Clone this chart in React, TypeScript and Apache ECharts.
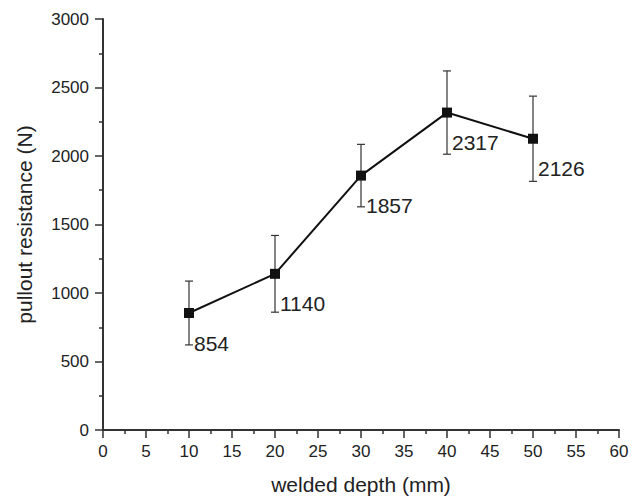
import React, { useEffect, useRef } from "react";
import * as echarts from "echarts";

const depths = [10, 20, 30, 40, 50];
const resistance = [854, 1140, 1857, 2317, 2126];
const errors = [233, 280, 228, 304, 311];
const xTicks = { min: 0, max: 60, interval: 5 };
const yTicks = { min: 0, max: 3000, interval: 500 };
const xName = "welded depth (mm)";
const yName = "pullout resistance (N)";

const FONT = "'Liberation Sans', Arial, sans-serif";

export default function App() {
  const ref = useRef<HTMLDivElement>(null);
  useEffect(() => {
    if (!ref.current) return;
    const chart = echarts.init(ref.current, undefined, { renderer: "svg" });
    const errData = depths.map((d, i) => [d, resistance[i] - errors[i], resistance[i] + errors[i]]);
    const axisCommon = {
      nameLocation: "middle" as const,
      nameTextStyle: { fontSize: 21, color: "#222", fontFamily: FONT },
      axisLine: { show: true, lineStyle: { color: "#333", width: 2 } },
      axisTick: { show: true, length: 8, lineStyle: { color: "#333", width: 1.5 } },
      minorTick: { show: true, splitNumber: 2, length: 4, lineStyle: { color: "#333", width: 1.5 } },
      splitLine: { show: false },
      minorSplitLine: { show: false },
    };
    chart.setOption({
      animation: false,
      backgroundColor: "#fff",
      grid: { left: 103, right: 13, top: 19, bottom: 64 },
      xAxis: {
        type: "value",
        ...xTicks,
        name: xName,
        nameGap: 44,
        ...axisCommon,
        axisLabel: { fontSize: 17, color: "#222", fontFamily: FONT, margin: 13 },
      },
      yAxis: {
        type: "value",
        ...yTicks,
        name: yName,
        nameGap: 68,
        ...axisCommon,
        axisLabel: {
          fontSize: 17,
          color: "#222",
          fontFamily: FONT,
          margin: 14,
          formatter: (v: number) => String(v),
        },
      },
      series: [
        {
          type: "custom",
          z: 1,
          data: errData,
          renderItem: (params: any, api: any) => {
            const x = api.value(0);
            const pLo = api.coord([x, api.value(1)]);
            const pHi = api.coord([x, api.value(2)]);
            const w = 4;
            const style = { stroke: "#333", lineWidth: 1.2 };
            return {
              type: "group",
              children: [
                { type: "line", shape: { x1: pHi[0], y1: pHi[1], x2: pLo[0], y2: pLo[1] }, style },
                { type: "line", shape: { x1: pHi[0] - w, y1: pHi[1], x2: pHi[0] + w, y2: pHi[1] }, style },
                { type: "line", shape: { x1: pLo[0] - w, y1: pLo[1], x2: pLo[0] + w, y2: pLo[1] }, style },
              ],
            };
          },
        },
        {
          type: "line",
          z: 3,
          data: depths.map((d, i) => [d, resistance[i]]),
          symbol: "rect",
          symbolSize: 10,
          lineStyle: { color: "#111", width: 2 },
          itemStyle: { color: "#111" },
          label: {
            show: true,
            position: "right",
            distance: 0,
            offset: [0, 30],
            fontSize: 21,
            color: "#222",
            fontFamily: FONT,
            formatter: (p: any) => String(p.value[1]),
          },
        },
      ],
    });
    return () => chart.dispose();
  }, []);
  return (
    <div
      ref={ref}
      style={{ position: "fixed", left: 0, top: 0, width: 632, height: 500, background: "#fff" }}
    />
  );
}
